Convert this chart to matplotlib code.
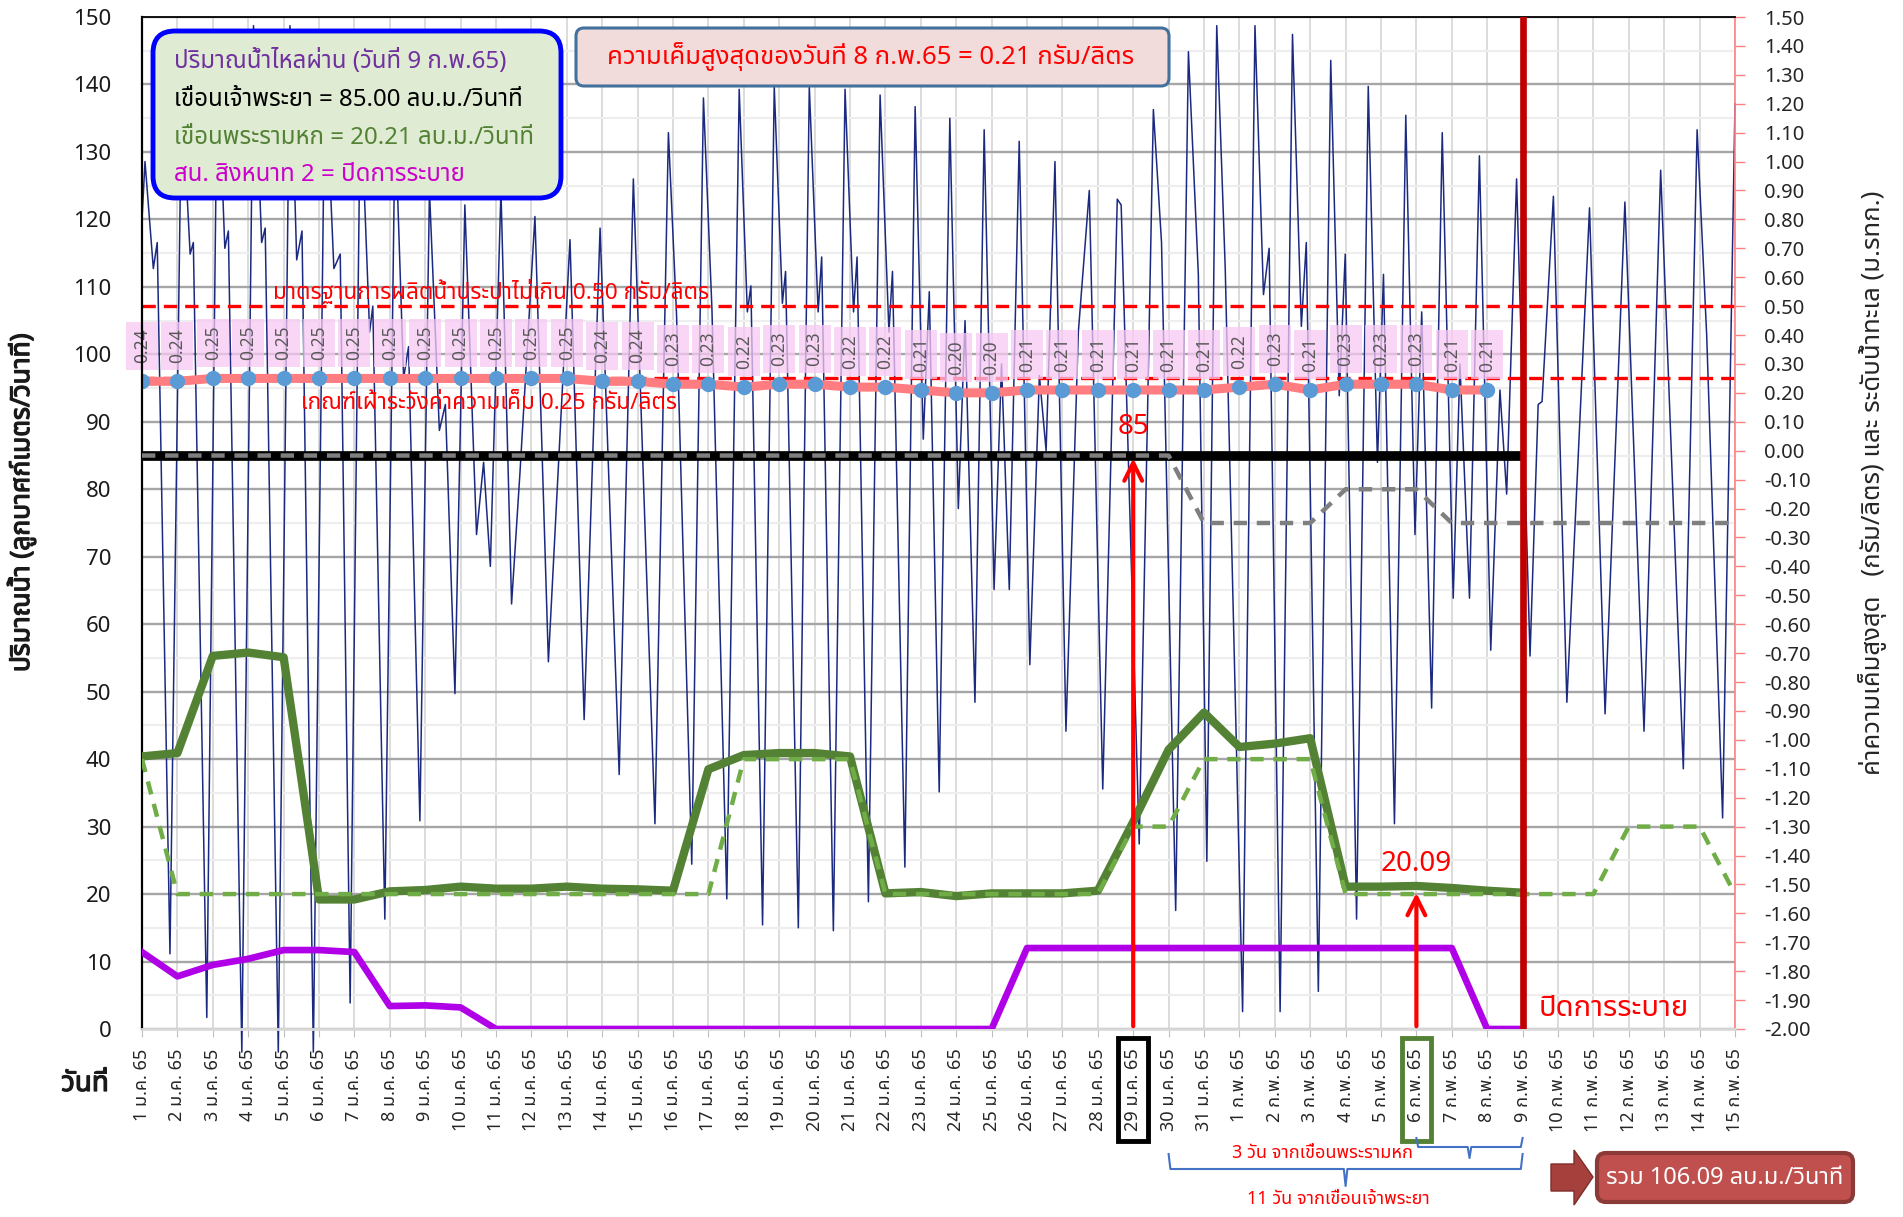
import matplotlib
matplotlib.use('Agg')
import matplotlib.pyplot as plt
from matplotlib import font_manager, transforms
from matplotlib import patheffects as pe
from matplotlib.ft2font import FT2Font
from matplotlib.patches import FancyBboxPatch, Rectangle, Polygon
from matplotlib.lines import Line2D


def find_thai_font():
    prefs = ['Tahoma', 'Noto Sans Thai', 'Noto Sans Thai UI', 'Loma', 'Garuda',
             'Sarabun', 'Waree', 'Umpush', 'Kinnari', 'Norasi', 'Laksaman']
    found = []
    for f in font_manager.fontManager.ttflist:
        try:
            cmap = FT2Font(f.fname).get_charmap()
        except Exception:
            continue
        if 0x0E01 in cmap and 0x0E49 in cmap:
            found.append(f.name)
    for p in prefs:
        if p in found:
            return p
    return found[0] if found else None


thai = find_thai_font()
plt.rcParams['font.family'] = [thai, 'DejaVu Sans'] if thai else ['DejaVu Sans']
plt.rcParams['axes.unicode_minus'] = False

# ---------------- data ----------------
date_labels = [f'{d} ม.ค. 65' for d in range(1, 32)] + [f'{d} ก.พ. 65' for d in range(1, 16)]
days = list(range(1, 47))

# เขื่อนเจ้าพระยา (1 ม.ค. - 9 ก.พ.)
chaophraya = [85] * 40
# แผนเขื่อนเจ้าพระยา (เส้นประเทา)
chaophraya_plan = [85] * 30 + [75, 75, 75, 75, 80, 80, 80] + [75] * 9

# เขื่อนพระรามหก
ramahok = [40.4, 40.9, 55.3, 55.8, 55.1, 19.2, 19.2, 20.4, 20.6, 21.1,
           20.8, 20.8, 21.1, 20.8, 20.7, 20.5, 38.5, 40.6, 40.9, 40.9,
           40.4, 20.1, 20.3, 19.7, 20.1, 20.1, 20.1, 20.5, 30.7, 41.4,
           46.9, 41.8, 42.3, 43.1, 21.1, 21.1, 21.2, 20.9, 20.5, 20.2]
ramahok_plan = [40] + [20] * 16 + [40, 40, 40, 40] + [20] * 7 + [30, 30, 40, 40, 40, 40] \
    + [20] * 8 + [30, 30, 30, 20]

# สน. สิงหนาท 2
singhanat = [11.4, 7.8, 9.5, 10.4, 11.7, 11.7, 11.4, 3.4, 3.5, 3.2,
             0, 0, 0, 0, 0, 0, 0, 0, 0, 0, 0, 0, 0, 0, 0,
             12.0, 12.0, 12.0, 12.0, 12.0, 12.0, 12.0, 12.0, 12.0, 12.0, 12.0, 12.0, 12.0,
             0, 0]

# ความเค็มสูงสุด (กรัม/ลิตร) 1 ม.ค. - 8 ก.พ.
salinity = [0.24, 0.24, 0.25, 0.25, 0.25, 0.25, 0.25, 0.25, 0.25, 0.25,
            0.25, 0.25, 0.25, 0.24, 0.24, 0.23, 0.23, 0.22, 0.23, 0.23,
            0.22, 0.22, 0.21, 0.20, 0.20, 0.21, 0.21, 0.21, 0.21, 0.21,
            0.21, 0.22, 0.23, 0.21, 0.23, 0.23, 0.23, 0.21, 0.21]

# ระดับน้ำทะเล (ม.รทก.) - จุดสูง/ต่ำ ที่อ่านจากกราฟ
tide_day = [1.0, 1.085, 1.32, 1.43, 1.79, 2.12, 2.36, 2.45, 2.83, 3.13, 3.34, 3.44, 3.82,
            4.15, 4.38, 4.48, 4.85, 5.18, 5.37, 5.52, 5.84, 6.17, 6.42, 6.60, 6.88,
            7.17, 7.43, 7.52, 7.86, 8.15, 8.39, 8.53, 8.85, 9.12, 9.40, 9.57, 9.84,
            10.12, 10.45, 10.65, 10.84, 11.14, 11.44, 11.68, 12.10, 12.48, 13.09,
            13.49, 13.94, 14.48, 14.88, 15.49, 15.87, 16.10, 16.53, 16.86, 17.10,
            17.52, 17.87, 18.10, 18.20, 18.53, 18.86, 19.09, 19.18, 19.54, 19.85,
            20.10, 20.20, 20.53, 20.86, 21.10, 21.20, 21.52, 21.85, 22.10, 22.20,
            22.55, 22.84, 23.07, 23.24, 23.52, 23.82, 24.06, 24.25, 24.53, 24.79,
            25.07, 25.28, 25.50, 25.78, 26.08, 26.35, 26.54, 26.79, 27.10, 27.45,
            27.76, 28.14, 28.55, 28.66, 29.17, 29.57, 29.80, 30.20, 30.56, 30.84,
            31.08, 31.36, 31.60, 32.09, 32.44, 32.68, 32.84, 33.15, 33.50, 33.75,
            33.89, 34.23, 34.58, 34.82, 34.99, 35.31, 35.64, 35.90, 36.07, 36.38,
            36.70, 36.96, 37.15, 37.43, 37.73, 38.04, 38.23, 38.50, 38.78, 39.10,
            39.36, 39.55, 39.83, 40.21, 40.44, 40.55, 40.87, 41.25, 41.68, 41.89,
            42.33, 42.89, 43.43, 43.90, 44.54, 44.93, 45.20, 45.65, 46.0]
tide_level = [0.80, 1.00, 0.63, 0.72, -1.74, 1.25, 0.68, 0.72, -1.96, 1.38, 0.70, 0.76, -2.08,
              1.47, 0.72, 0.77, -2.08, 1.47, 0.66, 0.76, -2.08, 1.35, 0.63, 0.68, -1.91,
              1.25, 0.41, 0.50, -1.62, 1.15, 0.25, 0.36, -1.28, 0.90, 0.07, 0.16, -0.84,
              0.85, -0.29, -0.04, -0.40, 0.90, -0.53, -0.07, 0.81, -0.73, 0.73,
              -0.93, 0.77, -1.12, 0.94, -1.29, 1.10, 0.47, -1.43, 1.22, 0.49,
              -1.55, 1.25, 0.48, 0.57, -1.64, 1.26, 0.51, 0.62, -1.65, 1.26,
              0.48, 0.67, -1.66, 1.25, 0.48, 0.67, -1.56, 1.23, 0.41, 0.62,
              -1.44, 1.19, 0.04, 0.55, -1.18, 1.15, -0.20, 0.45, -0.87, 1.11,
              -0.48, 0.30, -0.48, 1.07, -0.74, 0.26, 0.00, 1.00, -0.97, 0.41,
              0.90, -1.17, 0.87, 0.85, -1.36, 1.18, 0.72, -1.59, 1.38, 0.61,
              -1.42, 1.47, 0.63, -1.94, 1.47, 0.54, 0.70, -1.94, 1.44, 0.43,
              0.72, -1.87, 1.35, 0.19, 0.68, -1.62, 1.26, -0.04, 0.61, -1.29,
              1.16, -0.29, 0.48, -0.89, 1.10, -0.51, 0.30, -0.51, 1.02, -0.69,
              0.21, -0.15, 0.94, -0.71, 0.16, 0.17, 0.88, -0.87, 0.27, 0.84,
              -0.91, 0.86, -0.97, 0.97, -1.10, 1.11, 0.40, -1.27, 1.20]

# ---------------- figure ----------------
W, H = 1903, 1217
fig = plt.figure(figsize=(W / 100, H / 100), dpi=100)
pix = transforms.Affine2D().scale(1, -1).translate(0, H)  # pixel coords, origin top-left
bold_fx = [pe.withStroke(linewidth=0.9, foreground='#1A1A1A')]

rect = [142 / W, 1 - 1029 / H, (1735 - 142) / W, (1029 - 17) / H]

# background axes: grid only
ax_bg = fig.add_axes(rect, zorder=0)
ax_bg.set_xlim(1, 46)
ax_bg.set_ylim(0, 150)
ax_bg.set_xticks(days)
ax_bg.set_yticks(range(0, 151, 10))
ax_bg.set_yticks(range(5, 150, 10), minor=True)
ax_bg.grid(which='minor', axis='y', color='#EEEEEE', lw=1.6)
ax_bg.grid(which='major', axis='x', color='#D9D9D9', lw=1.3)
ax_bg.grid(which='major', axis='y', color='#A6A6A6', lw=1.7)
ax_bg.tick_params(which='both', left=False, bottom=False, labelleft=False, labelbottom=False)
for s in ax_bg.spines.values():
    s.set_visible(False)

# right axis: salinity and sea level
ax2 = fig.add_axes(rect, zorder=1)
ax2.patch.set_visible(False)
ax2.set_xlim(1, 46)
ax2.set_ylim(-2.0, 1.5)
ax2.yaxis.tick_right()
ax2.yaxis.set_label_position('right')
ax2.set_yticks([i / 10 for i in range(-20, 16)])
ax2.yaxis.set_major_formatter(plt.FormatStrFormatter('%.2f'))
ax2.tick_params(axis='y', length=7, width=1, color='#FF8080', labelsize=14.5,
                labelcolor='#262626', pad=14)
ax2.tick_params(axis='x', bottom=False, labelbottom=False)
for k, s in ax2.spines.items():
    s.set_visible(k == 'right')
ax2.spines['right'].set_color('#FF8080')
ax2.spines['right'].set_linewidth(1.2)

# left axis: discharge
ax = fig.add_axes(rect, zorder=2)
ax.patch.set_visible(False)
ax.set_xlim(1, 46)
ax.set_ylim(0, 150)
ax.set_yticks(range(0, 151, 10))
ax.tick_params(axis='y', length=0, labelsize=16, labelcolor='#1A1A1A', pad=22)
ax.set_xticks(days)
ax.set_xticklabels(date_labels, rotation=90, fontsize=13, color='#262626')
ax.tick_params(axis='x', length=6, color='#BFBFBF', pad=8)
ax.spines['right'].set_visible(False)
ax.spines['left'].set_linewidth(1.6)
ax.spines['top'].set_linewidth(1.3)
ax.spines['bottom'].set_color('#D9D9D9')
ax.spines['bottom'].set_linewidth(2)

# tide line
ax2.plot(tide_day, tide_level, color='#1B2A80', lw=1.1, zorder=1, clip_on=False)
# thresholds
ax2.axhline(0.50, color='#FF0000', lw=2.4, ls=(0, (4, 2.4)), zorder=2)
ax2.axhline(0.25, color='#FF0000', lw=2.4, ls=(0, (4, 2.4)), zorder=2)
# salinity
sal_days = days[:len(salinity)]
ax2.plot(sal_days, salinity, color='#FF7C80', lw=6.5, zorder=3, solid_capstyle='round')
ax2.plot(sal_days, salinity, 'o', color='#5B9BD5', ms=10, zorder=4)
for d, v in zip(sal_days, salinity):
    ax2.annotate(f'{v:.2f}', (d, v), xytext=(0, 13), textcoords='offset points',
                 rotation=90, ha='center', va='bottom', fontsize=12.5, color='#595959',
                 bbox=dict(boxstyle='square,pad=0.4', fc='#F7C8F3', ec='none', alpha=0.75),
                 zorder=5)

# discharge lines
ax.plot(days[:len(chaophraya)], chaophraya, color='black', lw=7, zorder=3,
        solid_capstyle='butt')
ax.plot(days, chaophraya_plan, color='#7F7F7F', lw=3.2, ls=(0, (3, 2.2)), zorder=4)
ax.plot(days[:len(ramahok)], ramahok, color='#548235', lw=6, zorder=4)
ax.plot(days, ramahok_plan, color='#70AD47', lw=3.2, ls=(0, (3, 2.2)), zorder=5)
ax.plot(days[:len(singhanat)], singhanat, color='#B000E8', lw=4.8, zorder=4)

# closing line
ax.axvline(40, color='#C00000', lw=4.8, zorder=7)

# arrows and values
ax.annotate('', xy=(29, 85), xytext=(29, 0),
            arrowprops=dict(arrowstyle='->', color='#FF0000', lw=3, mutation_scale=32),
            zorder=8, annotation_clip=False)
ax.text(29, 89.3, '85', color='#FF0000', fontsize=20, ha='center', va='center', zorder=8)
ax.annotate('', xy=(37, 20.6), xytext=(37, 0),
            arrowprops=dict(arrowstyle='->', color='#FF0000', lw=3, mutation_scale=32),
            zorder=8, annotation_clip=False)
ax.text(37, 24.4, '20.09', color='#FF0000', fontsize=20, ha='center', va='center', zorder=8)
ax.text(40.45, 3.0, 'ปิดการระบาย', color='#FF0000', fontsize=21, ha='left', va='center', zorder=8)
ax.text(4.7, 109.3, 'มาตรฐานการผลิตน้ำประปาไม่เกิน 0.50 กรัม/ลิตร', color='#FF0000',
        fontsize=16.3, ha='left', va='center', zorder=8)
ax.text(5.5, 92.7, 'เกณฑ์เฝ้าระวังค่าความเค็ม 0.25 กรัม/ลิตร', color='#FF0000',
        fontsize=16.3, ha='left', va='center', zorder=8)

# axis labels
ax.set_ylabel('ปริมาณน้ำ (ลูกบาศก์เมตร/วินาที)', fontsize=19, fontweight='bold', color='#1A1A1A',
              path_effects=bold_fx)
ax.yaxis.set_label_coords(-0.0665, 0.52)
ax2.set_ylabel('ค่าความเค็มสูงสุด   (กรัม/ลิตร) และ ระดับน้ำทะเล (ม.รทก.)', fontsize=18.5,
               color='#262626', rotation=90)
ax2.yaxis.set_label_coords(1.077, 0.54)
fig.text(85 / W, 1 - 1084 / H, 'วันที่', fontsize=20, fontweight='bold', ha='center',
         va='center', color='#1A1A1A', path_effects=bold_fx)

# boxes around two tick labels
bt = transforms.blended_transform_factory(ax.transData, pix)
fig.add_artist(Rectangle((28.58, 1038), 0.84, 103, transform=bt, fill=False,
                         ec='black', lw=3.5, zorder=9))
fig.add_artist(Rectangle((36.58, 1038), 0.84, 103, transform=bt, fill=False,
                         ec='#548235', lw=3.5, zorder=9))

# braces
brace_c = '#4472C4'
fig.add_artist(Line2D([37, 37.05, 38.45, 38.5, 38.55, 39.95, 40],
                      [1138, 1147, 1147, 1158, 1147, 1147, 1138],
                      transform=bt, color=brace_c, lw=1.5, zorder=9))
fig.add_artist(Line2D([30, 30.05, 34.95, 35, 35.05, 39.95, 40],
                      [1154, 1169, 1169, 1186, 1169, 1169, 1154],
                      transform=bt, color=brace_c, lw=1.5, zorder=9))
fig.text(1323 / W, 1 - 1153 / H, '3 วัน จากเขื่อนพระรามหก', color='#FF0000', fontsize=13,
         ha='center', va='center', zorder=10)
fig.text(1338 / W, 1 - 1199 / H, '11 วัน จากเขื่อนเจ้าพระยา', color='#FF0000', fontsize=13,
         ha='center', va='center', zorder=10)

# legend box (top-left)
fig.add_artist(FancyBboxPatch((153, 31), 408, 167, boxstyle='round,pad=0,rounding_size=22',
                              transform=pix, fc='#DFEBD3', ec='#0000FF', lw=3.5, zorder=10))
legend_lines = [('ปริมาณน้ำไหลผ่าน (วันที่ 9 ก.พ.65)', '#7030A0'),
                ('เขื่อนเจ้าพระยา = 85.00 ลบ.ม./วินาที', '#000000'),
                ('เขื่อนพระรามหก = 20.21 ลบ.ม./วินาที', '#548235'),
                ('สน. สิงหนาท 2 = ปิดการระบาย', '#CC00CC')]
for (txt, col), yy in zip(legend_lines, [62, 100, 138, 175]):
    fig.text(174 / W, 1 - yy / H, txt, color=col, fontsize=17.3, ha='left', va='center', zorder=11)

# title box
fig.add_artist(FancyBboxPatch((576, 28), 593, 58, boxstyle='round,pad=0,rounding_size=8',
                              transform=pix, fc='#F2DCDB', ec='#41719C', lw=2.2, zorder=10))
fig.text(871 / W, 1 - 57 / H, 'ความเค็มสูงสุดของวันที่ 8 ก.พ.65 = 0.21 กรัม/ลิตร',
         color='#FF0000', fontsize=18.5, ha='center', va='center', zorder=11)

# total box with block arrow
fig.add_artist(Polygon([(1551, 1164), (1574, 1164), (1574, 1150), (1593, 1177),
                        (1574, 1205), (1574, 1191), (1551, 1191)],
                       transform=pix, fc='#A5403D', ec='#7F2C2A', lw=1, zorder=10))
fig.add_artist(FancyBboxPatch((1597, 1153), 256, 49, boxstyle='round,pad=0,rounding_size=9',
                              transform=pix, fc='#C0504D', ec='#8C3A38', lw=3, zorder=10))
fig.text(1725 / W, 1 - 1178 / H, 'รวม 106.09 ลบ.ม./วินาที', color='white', fontsize=17,
         ha='center', va='center', zorder=11)

fig.savefig('out.png', dpi=100)
